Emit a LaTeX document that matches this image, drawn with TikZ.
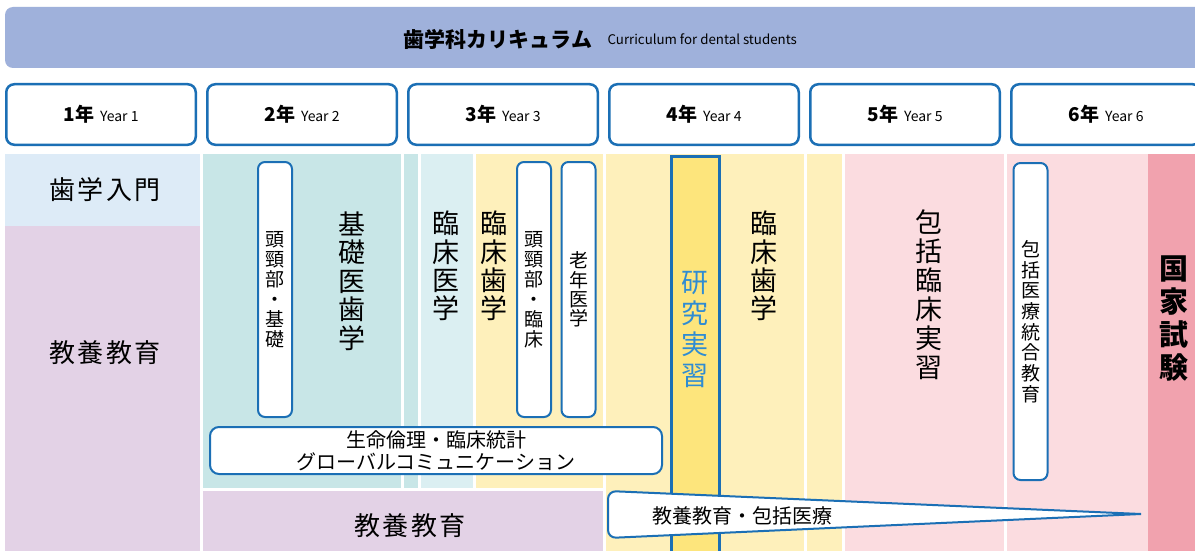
\documentclass[tikz,border=0pt]{standalone}
\usepackage{fontspec}
\setmainfont{Noto Sans CJK JP}
\usetikzlibrary{positioning}
\definecolor{barblue}{HTML}{9FB1DB}
\definecolor{lineblue}{HTML}{1B6FB5}
\definecolor{textblue}{HTML}{2F8CD2}
\definecolor{introblue}{HTML}{DDEBF7}
\definecolor{lavender}{HTML}{E3D2E6}
\definecolor{basicteal}{HTML}{C8E6E7}
\definecolor{medblue}{HTML}{DBEFF2}
\definecolor{clinyellow}{HTML}{FEF0BB}
\definecolor{researchyellow}{HTML}{FDE57C}
\definecolor{pracpink}{HTML}{FBDCE0}
\definecolor{exampink}{HTML}{F1A2AE}
\tikzstyle{year} = [rectangle, draw=lineblue, line width=2.5pt, rounded corners=8pt,
                  fill=white, minimum width=189.5pt, minimum height=60.5pt, inner sep=0pt]
\tikzstyle{subj} = [rectangle, draw=lineblue, line width=2pt, rounded corners=7pt,
                  fill=white, minimum width=34pt, inner sep=0pt, align=center,
                  font=\fontsize{19}{20}\selectfont]
\tikzstyle{vbig} = [align=center, inner sep=0pt, font=\fontsize{27}{28.4}\selectfont]
\tikzstyle{hbig} = [inner sep=0pt, font=\fontsize{26}{28}\selectfont\addfontfeature{LetterSpace=10}]
\newcommand{\yearlab}[1]{{\fontsize{19}{19}\selectfont\bfseries #1年}\hspace{6pt}{\fontsize{14}{14}\selectfont Year #1}}

\begin{document}
\begin{tikzpicture}[x=1pt, y=-1pt]
        \useasboundingbox [fill=white] (0,0) rectangle (1195,551);
        % title bar
        \fill [barblue, rounded corners=8pt] (5,7) rectangle (1215,68);
        \node [inner sep=0pt, font=\fontsize{21}{21}\selectfont\bfseries] (title) at (498,39) {歯学科カリキュラム};
        \node [right=15pt of title, inner sep=0pt, font=\fontsize{13.3}{13.3}\selectfont] (titleen) {Curriculum for dental students};

        % years
        \node [year] (y1) at (101,114.5) {\yearlab{1}};
        \node [year, right=9pt of y1] (y2) {\yearlab{2}};
        \node [year, right=9pt of y2] (y3) {\yearlab{3}};
        \node [year, right=9pt of y3] (y4) {\yearlab{4}};
        \node [year, right=9pt of y4] (y5) {\yearlab{5}};
        \node [year, right=9pt of y5] (y6) {\yearlab{6}};

        % bands
        \fill [introblue] (5,154) rectangle (200,226);
        \fill [lavender] (5,226) rectangle (200,551);
        \fill [basicteal] (203,154) rectangle (401,488);
        \fill [basicteal] (404,154) rectangle (418,488);
        \fill [medblue] (421,154) rectangle (473,488);
        \fill [clinyellow] (476,154) rectangle (603,488);
        \fill [lavender] (203,491) rectangle (603,551);
        \fill [clinyellow] (606,154) rectangle (804,551);
        \fill [clinyellow] (807,154) rectangle (842,551);
        \fill [pracpink] (845,154) rectangle (1004,551);
        \fill [pracpink] (1007,154) rectangle (1148,551);
        \fill [exampink] (1148,154) rectangle (1195,551);

        % band labels
        \node [hbig] (intro) at (105,190) {歯学入門};
        \node [hbig] (liberal) at (105,353) {教養教育};
        \node [hbig] (liberal2) at (410,526) {教養教育};
        \node [vbig] (basic) at (352,281) {基\\礎\\医\\歯\\学};
        \node [vbig] (clinmed) at (446,266) {臨\\床\\医\\学};
        \node [vbig] (clindent) at (494,266) {臨\\床\\歯\\学};
        \node [vbig] (clindent2) at (764,266) {臨\\床\\歯\\学};
        \node [vbig, font=\fontsize{27}{29}\selectfont] (practice) at (929,295) {包\\括\\臨\\床\\実\\習};
        \node [vbig, font=\fontsize{29}{33}\selectfont\bfseries] (exam) at (1174,319) {国\\家\\試\\験};

        % subjects
        \node [subj, minimum height=255pt] (headbasic) at (275,289.5) {頭\\頸\\部\\・\\基\\礎};
        \node [subj, minimum height=255pt] (headclin) at (534,289.5) {頭\\頸\\部\\・\\臨\\床};
        \node [subj, minimum height=255pt, font=\fontsize{19}{19.3}\selectfont] (geriatric) at (578.5,289.5) {老\\年\\医\\学};
        \node [subj, minimum height=317pt, font=\fontsize{19}{20.7}\selectfont] (integrated) at (1030.5,321.5) {包\\括\\医\\療\\統\\合\\教\\育};
        \node [subj, minimum width=452pt, minimum height=47pt, rounded corners=9pt, font=\fontsize{20}{22}\selectfont] (ethics) at (436,450.5) {生命倫理・臨床統計\\グローバルコミュニケーション};

        % research
        \draw [lineblue, line width=3pt, fill=researchyellow] (671.5,156.5) rectangle (719,575);
        \node [vbig, text=textblue, font=\fontsize{27}{31}\selectfont] (research) at (695,330) {研\\究\\実\\習};

        % wedge
        \draw [lineblue, line width=2pt, fill=white] (1141,514) [rounded corners=8pt] -- (608,491) -- (608,538) [sharp corners] -- cycle;
        \node [inner sep=0pt, font=\fontsize{20}{20}\selectfont] (general) at (742,516) {教養教育・包括医療};
    \end{tikzpicture}
\end{document}
